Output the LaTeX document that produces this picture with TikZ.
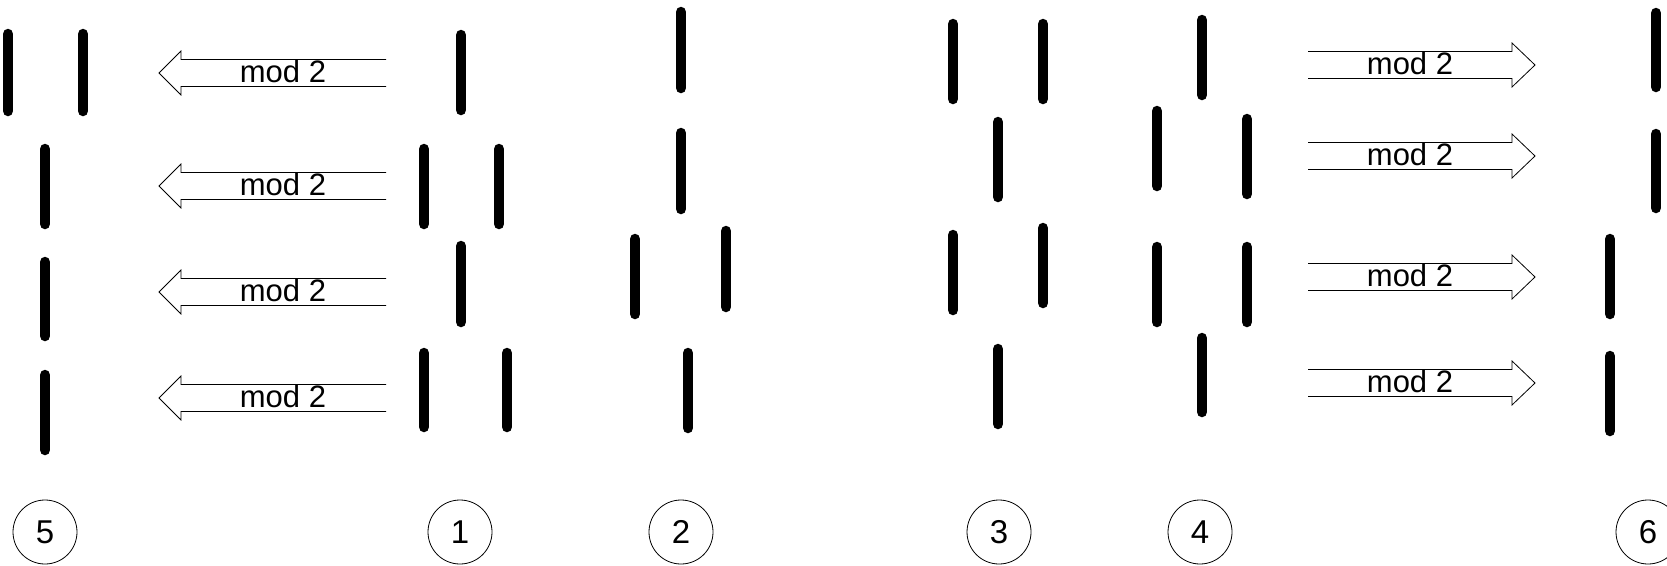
\documentclass[tikz,border=0pt]{standalone}
\usepackage{fontspec}
\setmainfont{Liberation Sans}

\tikzset{
  bar/.style={line width=10.5pt, line cap=round, shorten <=-2pt, shorten >=-2pt},
  modarrow/.style={line width=0.8pt, line join=miter},
  modlabel/.style={inner sep=0pt, font=\fontsize{31}{37}\selectfont},
  num/.style={circle, draw, line width=0.8pt, minimum size=64pt, inner sep=0pt,
    font=\fontsize{33}{40}\selectfont}
}

\begin{document}
\begin{tikzpicture}[x=1pt,y=-1pt]
  \useasboundingbox (0,0) rectangle (1667,565);

  % the bars, column by column (5, 1, 2, 3, 4, 6)
  \foreach \x/\ya/\yb in {8/36/109, 83/36/109, 45/151/222, 45/264/334, 45/377/448,
      461/37/108, 424/151/222, 499/151/222, 461/248/320, 424/355/425, 507/355/425,
      681/14/86, 681/135/207, 635/241/312, 726/233/305, 688/355/426,
      953/26/97, 1043/26/97, 998/124/195, 953/237/308, 1043/230/301, 998/351/422,
      1202/22/93, 1157/113/184, 1247/121/192, 1157/249/320, 1247/249/320, 1202/340/410,
      1656/15/85, 1656/136/206, 1610/241/312, 1610/358/429}
    \draw[bar] (\x,\ya) -- (\x,\yb);

  % mod 2 arrows
  \foreach \c [count=\i] in {73,186,292,398}{
    \draw[modarrow] (386,\c-13.5) -- (181,\c-13.5) -- (181,\c-22) -- (159,\c)
      -- (181,\c+22) -- (181,\c+13.5) -- (386,\c+13.5);
    \node[modlabel] (ml\i) at (283,\c-2) {mod 2};
  }
  \foreach \c [count=\i] in {65,156,277,383}{
    \draw[modarrow] (1308,\c-13.5) -- (1512,\c-13.5) -- (1512,\c-22) -- (1535,\c)
      -- (1512,\c+22) -- (1512,\c+13.5) -- (1308,\c+13.5);
    \node[modlabel] (mr\i) at (1410,\c-2) {mod 2};
  }

  % numbers
  \node[num] (n5) at (45,532) {5};
  \node[num] (n1) at (460,532) {1};
  \node[num] (n2) at (681,532) {2};
  \node[num] (n3) at (999,532) {3};
  \node[num] (n4) at (1200,532) {4};
  \node[num] (n6) at (1648,532) {6};
\end{tikzpicture}
\end{document}
